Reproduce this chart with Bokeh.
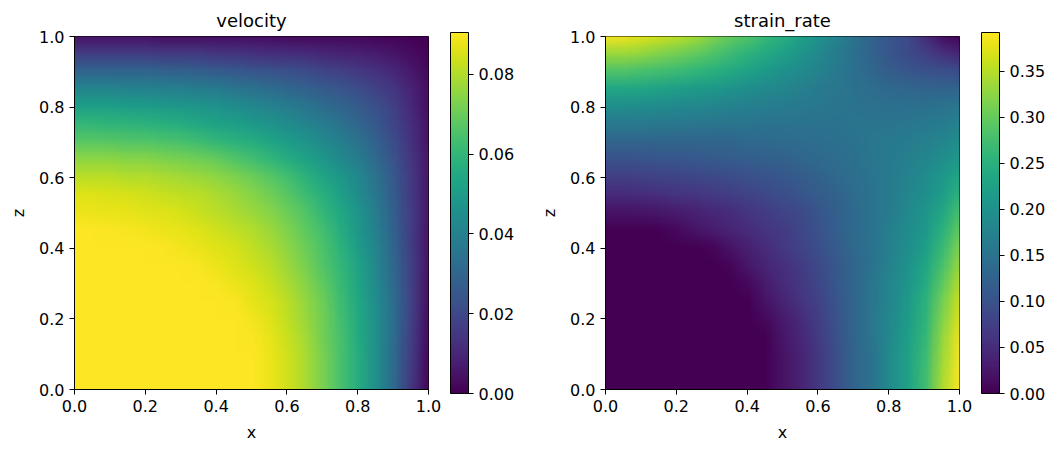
import numpy as np
from bokeh.plotting import figure
from bokeh.layouts import row
from bokeh.models import ColorBar, LinearColorMapper, Range1d, FixedTicker, NumeralTickFormatter
from bokeh.palettes import Viridis256
from bokeh.embed import file_html
from bokeh.resources import INLINE

x_ticks = [0.0, 0.2, 0.4, 0.6, 0.8, 1.0]
velocity_ticks = [0.0, 0.02, 0.04, 0.06, 0.08]
strain_ticks = [0.0, 0.05, 0.10, 0.15, 0.20, 0.25, 0.30, 0.35]
velocity_max = 0.0905
strain_max = 0.392
T = 0.0905

# rows: z = 0.00, 0.05 .. 1.00; columns: x = 0.00, 0.05 .. 1.00
velocity = [
    [T,T,T,T,T,T,T,T,T,T,T,.088,.084,.079,.072,.064,.056,.045,.031,.014,.000],
    [T,T,T,T,T,T,T,T,T,T,T,.088,.084,.079,.072,.064,.056,.045,.031,.015,.001],
    [T,T,T,T,T,T,T,T,T,T,T,.088,.084,.079,.072,.064,.056,.045,.031,.016,.001],
    [T,T,T,T,T,T,T,T,T,T,.090,.087,.083,.078,.071,.064,.055,.045,.032,.016,.002],
    [T,T,T,T,T,T,T,T,T,T,.089,.086,.082,.077,.071,.063,.055,.045,.032,.017,.002],
    [T,T,T,T,T,T,T,T,T,.090,.087,.085,.081,.076,.070,.062,.054,.044,.032,.017,.003],
    [T,T,T,T,T,T,T,T,.0895,.088,.086,.083,.079,.074,.068,.061,.053,.043,.031,.017,.003],
    [T,T,T,T,T,T,T,.0895,.088,.086,.084,.081,.077,.072,.066,.060,.052,.042,.030,.017,.004],
    [T,T,T,T,T,.090,.089,.088,.086,.085,.082,.079,.075,.070,.065,.058,.050,.041,.029,.016,.004],
    [T,T,.090,.0895,.089,.088,.087,.086,.084,.082,.080,.077,.073,.068,.063,.056,.048,.039,.028,.016,.004],
    [.088,.0878,.0875,.087,.0865,.086,.085,.083,.081,.079,.077,.074,.070,.066,.060,.054,.047,.038,.027,.016,.005],
    [.086,.086,.0855,.085,.084,.083,.082,.081,.079,.077,.074,.071,.067,.062,.057,.051,.044,.036,.026,.015,.005],
    [.081,.081,.081,.080,.080,.079,.078,.077,.075,.073,.070,.067,.063,.058,.053,.048,.042,.034,.025,.015,.005],
    [.075,.075,.075,.074,.074,.073,.072,.071,.069,.066,.063,.060,.056,.052,.048,.043,.038,.031,.023,.014,.005],
    [.067,.067,.067,.066,.066,.065,.064,.062,.060,.058,.056,.053,.050,.047,.043,.039,.034,.028,.021,.013,.004],
    [.060,.060,.059,.059,.058,.057,.056,.054,.052,.051,.049,.047,.044,.041,.038,.034,.030,.025,.019,.012,.004],
    [.051,.051,.051,.050,.050,.049,.048,.047,.046,.044,.042,.040,.038,.035,.032,.029,.026,.022,.017,.010,.003],
    [.041,.041,.041,.040,.040,.039,.039,.038,.037,.035,.034,.032,.030,.028,.026,.024,.021,.018,.014,.009,.003],
    [.029,.029,.029,.029,.029,.028,.028,.027,.026,.025,.024,.023,.022,.021,.019,.017,.015,.013,.010,.006,.002],
    [.016,.016,.016,.016,.016,.015,.015,.015,.014,.014,.013,.012,.012,.011,.010,.009,.008,.007,.005,.003,.001],
    [.004,.004,.004,.004,.004,.003,.003,.003,.003,.003,.003,.003,.002,.002,.002,.002,.002,.001,.001,.000,.000],
]
strain_rate = [
    [0,0,0,0,0,0,0,0,0,0,.02,.04,.065,.095,.13,.15,.19,.225,.27,.345,.392],
    [0,0,0,0,0,0,0,0,0,0,.02,.04,.065,.095,.13,.15,.19,.225,.27,.34,.392],
    [0,0,0,0,0,0,0,0,0,0,.02,.04,.065,.095,.13,.15,.19,.225,.265,.335,.39],
    [0,0,0,0,0,0,0,0,0,0,.025,.045,.07,.10,.13,.155,.185,.22,.26,.33,.385],
    [0,0,0,0,0,0,0,0,0,.01,.03,.05,.075,.10,.13,.155,.185,.215,.255,.32,.375],
    [0,0,0,0,0,0,0,0,0,.02,.04,.06,.08,.105,.13,.155,.18,.21,.25,.31,.365],
    [0,0,0,0,0,0,0,0,.01,.03,.05,.065,.085,.11,.13,.155,.18,.205,.24,.295,.35],
    [0,0,0,0,0,0,0,.005,.025,.04,.055,.07,.09,.11,.13,.15,.175,.20,.23,.28,.335],
    [0,0,0,0,0,0,.005,.02,.035,.05,.065,.08,.095,.115,.135,.15,.17,.195,.22,.265,.32],
    [0,0,0,.002,.01,.02,.03,.04,.05,.06,.07,.085,.10,.12,.135,.15,.17,.19,.21,.25,.30],
    [.02,.02,.022,.025,.03,.037,.045,.052,.06,.07,.08,.09,.105,.12,.135,.15,.165,.185,.205,.235,.28],
    [.05,.05,.052,.055,.06,.062,.068,.073,.08,.087,.095,.105,.115,.125,.14,.15,.165,.18,.195,.22,.255],
    [.075,.075,.077,.08,.082,.085,.088,.092,.097,.102,.108,.115,.125,.135,.143,.153,.163,.175,.19,.21,.235],
    [.10,.10,.102,.105,.107,.11,.112,.115,.118,.12,.124,.13,.135,.14,.147,.155,.16,.17,.18,.195,.21],
    [.13,.13,.13,.13,.13,.13,.13,.13,.135,.135,.138,.14,.142,.146,.15,.155,.16,.165,.17,.18,.195],
    [.16,.16,.16,.158,.157,.155,.154,.153,.152,.15,.15,.15,.15,.15,.152,.152,.153,.155,.16,.165,.175],
    [.195,.195,.193,.19,.188,.185,.18,.175,.17,.168,.165,.16,.157,.153,.15,.148,.145,.145,.145,.15,.155],
    [.235,.235,.232,.228,.222,.215,.21,.203,.195,.187,.18,.17,.163,.155,.147,.14,.133,.13,.127,.125,.125],
    [.285,.285,.28,.275,.268,.26,.25,.24,.228,.215,.20,.19,.175,.16,.145,.13,.115,.105,.098,.095,.09],
    [.335,.335,.33,.32,.31,.30,.285,.27,.255,.24,.225,.205,.185,.165,.145,.125,.105,.09,.075,.055,.04],
    [.39,.385,.375,.365,.355,.34,.32,.30,.285,.265,.245,.225,.20,.175,.15,.125,.105,.09,.05,.015,0],
]

FS = "16px"

def panel(title, data, vmax, ticks, fmt, border_right):
    p = figure(frame_width=354, frame_height=353,
               x_range=Range1d(0, 1), y_range=Range1d(0, 1),
               output_backend="svg", toolbar_location=None,
               min_border_left=74, min_border_top=36, min_border_bottom=48, min_border_right=border_right)
    mapper = LinearColorMapper(palette=Viridis256, low=0, high=vmax)
    arr = np.array(data, dtype=float)
    half = 0.5 / (arr.shape[1] - 1)
    p.image(image=[arr], x=-half, y=-half, dw=1 + 2 * half, dh=1 + 2 * half, color_mapper=mapper)
    p.grid.visible = False
    p.outline_line_color = "black"
    p.outline_line_width = 1
    p.title.text = title
    p.title.align = "center"
    p.title.text_font = "DejaVu Sans"
    p.title.text_font_size = "18px"
    p.title.text_font_style = "normal"
    p.title.text_color = "black"
    p.title.standoff = 11
    for ax, lab in ((p.xaxis[0], "x"), (p.yaxis[0], "z")):
        ax.axis_label = lab
        ax.axis_label_text_font = "DejaVu Sans"
        ax.axis_label_text_font_size = FS
        ax.axis_label_text_font_style = "normal"
        ax.axis_label_text_color = "black"
        ax.axis_label_standoff = 8
        ax.major_label_text_font = "DejaVu Sans"
        ax.major_label_text_font_size = FS
        ax.major_label_text_color = "black"
        ax.ticker = FixedTicker(ticks=x_ticks)
        ax.formatter = NumeralTickFormatter(format="0.0")
        ax.major_tick_in = 0
        ax.major_tick_out = 5
        ax.minor_tick_line_color = None
        ax.axis_line_color = "black"
        ax.major_tick_line_color = "black"
    cb = ColorBar(color_mapper=mapper, width=18, height=361, padding=0, margin=0,
                  location=(22, -4), ticker=FixedTicker(ticks=ticks),
                  formatter=NumeralTickFormatter(format=fmt),
                  major_tick_in=0, major_tick_out=5, major_tick_line_color="black",
                  minor_tick_line_color=None, bar_line_color="black", bar_line_width=1,
                  major_label_text_font="DejaVu Sans", major_label_text_font_size=FS,
                  major_label_text_color="black", label_standoff=5)
    p.add_layout(cb, "right")
    return p

a = panel("velocity", velocity, velocity_max, velocity_ticks, "0.00", 103)
b = panel("strain_rate", strain_rate, strain_max, strain_ticks, "0.00", 28)
layout = row(a, b, spacing=0)

# keep the browser's bilinear scaling of heatmap cells on, as the reference is a smooth field
SMOOTH = """<head><script>
Object.defineProperty(CanvasRenderingContext2D.prototype, 'imageSmoothingEnabled',
  {get() { return true; }, set(v) {}, configurable: true});
</script>"""
open("out.html", "w").write(file_html(layout, INLINE).replace("<head>", SMOOTH, 1))
